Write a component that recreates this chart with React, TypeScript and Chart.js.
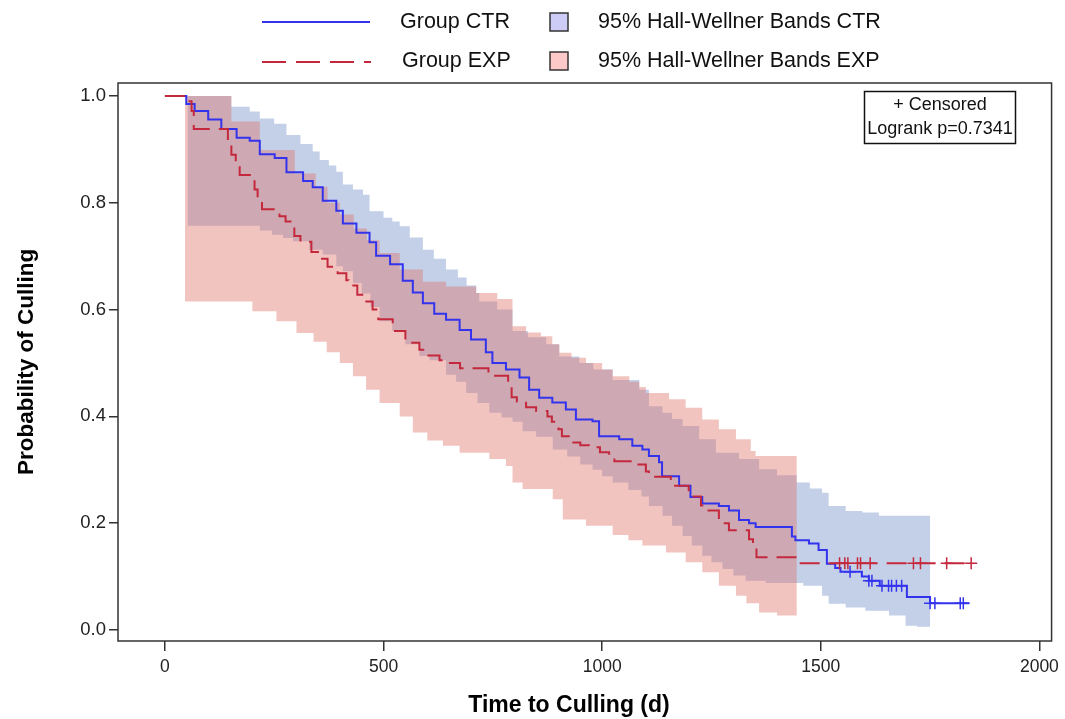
import { useEffect, useRef } from "react";
import { Chart, registerables } from "chart.js";

Chart.register(...registerables);

const FONT = '"Liberation Sans", Arial, Helvetica, sans-serif';

// Axis ticks
const xTicks = [0, 500, 1000, 1500, 2000];
const yTicks = [0, 0.2, 0.4, 0.6, 0.8, 1.0];

// Kaplan-Meier steps [time, survival after the event]
const ctrSteps: [number, number][] = [
  [0, 1], [49, 0.985], [68, 0.972], [99, 0.956], [129, 0.938], [164, 0.922], [194, 0.916],
  [217, 0.891], [251, 0.884], [278, 0.857], [316, 0.841], [338, 0.829], [361, 0.804],
  [392, 0.785], [407, 0.761], [438, 0.744], [468, 0.726], [483, 0.701], [515, 0.685],
  [544, 0.654], [567, 0.632], [590, 0.612], [616, 0.592], [643, 0.581], [674, 0.562],
  [700, 0.544], [734, 0.52], [749, 0.5], [780, 0.488], [811, 0.473], [833, 0.45],
  [856, 0.435], [886, 0.426], [917, 0.413], [940, 0.394], [978, 0.391], [993, 0.363],
  [1039, 0.357], [1069, 0.345], [1092, 0.338], [1107, 0.326], [1130, 0.314], [1137, 0.288],
  [1176, 0.27], [1202, 0.249], [1229, 0.237], [1267, 0.232], [1290, 0.224], [1313, 0.206],
  [1336, 0.2], [1351, 0.193], [1434, 0.175], [1442, 0.168], [1473, 0.162], [1495, 0.15],
  [1514, 0.124], [1533, 0.116], [1545, 0.109], [1594, 0.1], [1610, 0.092], [1635, 0.083],
  [1697, 0.062], [1750, 0.05],
];
const ctrEnd = 1840;

const expSteps: [number, number][] = [
  [0, 1], [46, 0.99], [61, 0.972], [66, 0.938], [144, 0.91], [152, 0.89], [162, 0.87],
  [171, 0.852], [205, 0.825], [212, 0.807], [222, 0.788], [262, 0.775], [276, 0.765],
  [292, 0.757], [296, 0.738], [310, 0.727], [335, 0.708], [350, 0.695], [372, 0.68],
  [395, 0.668], [415, 0.655], [420, 0.645], [440, 0.628], [455, 0.615], [475, 0.6],
  [488, 0.582], [521, 0.56], [550, 0.538], [582, 0.525], [597, 0.514], [628, 0.505],
  [643, 0.5], [675, 0.49], [740, 0.476], [785, 0.455], [793, 0.436], [805, 0.428],
  [826, 0.417], [849, 0.41], [875, 0.4], [885, 0.39], [900, 0.376], [908, 0.363],
  [929, 0.351], [950, 0.346], [970, 0.342], [995, 0.333], [1016, 0.325], [1028, 0.316],
  [1078, 0.31], [1100, 0.297], [1107, 0.287], [1157, 0.27], [1198, 0.25], [1226, 0.233],
  [1240, 0.224], [1267, 0.2], [1290, 0.187], [1336, 0.17], [1345, 0.163], [1353, 0.136],
  [1445, 0.125],
];
const expEnd = 1850;

// Censoring times
const ctrCensor = [1567, 1610, 1617, 1640, 1655, 1662, 1673, 1685, 1750, 1761, 1819, 1826];
const expCensor = [1543, 1555, 1562, 1584, 1591, 1613, 1712, 1728, 1788, 1844];

// 95% Hall-Wellner bands (step functions)
const ctrUpper: [number, number][] = [
  [52, 1.0], [152, 0.98], [194, 0.971], [217, 0.958], [250, 0.948], [278, 0.927], [310, 0.91],
  [338, 0.896], [354, 0.88], [375, 0.87], [392, 0.858], [407, 0.834], [430, 0.825],
  [453, 0.815], [468, 0.784], [500, 0.772], [520, 0.765], [537, 0.756], [560, 0.735],
  [590, 0.712], [615, 0.695], [643, 0.675], [670, 0.66], [690, 0.645], [712, 0.631],
  [719, 0.615], [760, 0.6], [795, 0.56], [830, 0.548], [872, 0.535], [902, 0.512],
  [948, 0.5], [980, 0.488], [1024, 0.468], [1085, 0.45], [1107, 0.419], [1138, 0.407],
  [1160, 0.395], [1184, 0.382], [1222, 0.357], [1260, 0.332], [1313, 0.32], [1359, 0.301],
  [1400, 0.29], [1445, 0.276], [1475, 0.265], [1503, 0.257], [1518, 0.232], [1557, 0.223],
  [1595, 0.22], [1633, 0.214],
];
const ctrLower: [number, number][] = [
  [52, 0.757], [217, 0.748], [245, 0.74], [270, 0.734], [293, 0.728], [330, 0.712],
  [361, 0.703], [392, 0.681], [407, 0.672], [430, 0.65], [450, 0.63], [470, 0.605],
  [491, 0.578], [520, 0.56], [550, 0.535], [582, 0.513], [605, 0.505], [643, 0.478],
  [666, 0.465], [689, 0.444], [715, 0.425], [742, 0.407], [770, 0.398], [795, 0.39],
  [818, 0.372], [849, 0.362], [887, 0.338], [920, 0.325], [950, 0.31], [978, 0.3],
  [1000, 0.288], [1024, 0.276], [1060, 0.262], [1090, 0.25], [1107, 0.232], [1138, 0.214],
  [1160, 0.195], [1184, 0.176], [1205, 0.158], [1229, 0.139], [1250, 0.127], [1275, 0.114],
  [1300, 0.102], [1328, 0.092], [1374, 0.088], [1460, 0.083], [1503, 0.064], [1518, 0.049],
  [1557, 0.042], [1602, 0.036], [1656, 0.027], [1694, 0.008], [1720, 0.006],
];
const ctrBandEnd = 1750;

const expUpper: [number, number][] = [
  [46, 1.0], [152, 0.952], [217, 0.899], [297, 0.855], [345, 0.83], [372, 0.8], [400, 0.778],
  [432, 0.752], [462, 0.73], [491, 0.706], [537, 0.675], [590, 0.652], [643, 0.643],
  [712, 0.631], [760, 0.62], [795, 0.569], [826, 0.557], [860, 0.55], [886, 0.535],
  [902, 0.519], [930, 0.51], [963, 0.5], [1000, 0.488], [1024, 0.475], [1062, 0.465],
  [1085, 0.455], [1100, 0.444], [1153, 0.432], [1191, 0.416], [1229, 0.394], [1267, 0.376],
  [1306, 0.357], [1340, 0.335], [1351, 0.326],
];
const expLower: [number, number][] = [
  [46, 0.615], [200, 0.597], [255, 0.578], [301, 0.556], [340, 0.54], [370, 0.52], [400, 0.5],
  [430, 0.475], [460, 0.45], [491, 0.425], [537, 0.4], [567, 0.37], [600, 0.355],
  [636, 0.345], [674, 0.332], [742, 0.32], [780, 0.307], [795, 0.276], [818, 0.264],
  [887, 0.245], [910, 0.207], [963, 0.195], [1024, 0.178], [1060, 0.168], [1092, 0.158],
  [1146, 0.145], [1191, 0.127], [1229, 0.108], [1267, 0.083], [1306, 0.064], [1330, 0.05],
  [1359, 0.033], [1400, 0.027],
];
const expBandEnd = 1445;

const BLUE = "#3333ee";
const RED = "#c4283c";

type Pt = { x: number; y: number };

function stepPoints(steps: [number, number][], end: number): Pt[] {
  const pts: Pt[] = [];
  steps.forEach(([t, v], i) => {
    if (i > 0) pts.push({ x: t, y: steps[i - 1][1] });
    pts.push({ x: t, y: v });
  });
  pts.push({ x: end, y: steps[steps.length - 1][1] });
  return pts;
}

function bandPolygon(upper: [number, number][], lower: [number, number][], end: number): Pt[] {
  const u = stepPoints(upper, end);
  const l = stepPoints(lower, end).reverse();
  return u.concat(l);
}

function survAt(steps: [number, number][], t: number): number {
  let v = steps[0][1];
  for (const [st, sv] of steps) if (st <= t) v = sv;
  return v;
}

const decorPlugin = {
  id: "decor",
  afterDraw(chart: any) {
    const ctx: CanvasRenderingContext2D = chart.ctx;
    const a = chart.chartArea;
    ctx.save();
    // frame
    ctx.strokeStyle = "#333";
    ctx.lineWidth = 1.5;
    ctx.strokeRect(a.left, a.top, a.right - a.left, a.bottom - a.top);

    // x-axis title
    ctx.font = `bold 23px ${FONT}`;
    ctx.textAlign = "center";
    ctx.textBaseline = "middle";
    ctx.fillStyle = "#000";
    ctx.fillText("Time to Culling (d)", 569, 706);

    // legend
    ctx.font = `21.5px ${FONT}`;
    ctx.textBaseline = "middle";
    ctx.textAlign = "left";
    ctx.fillStyle = "#111";
    ctx.lineWidth = 2;
    ctx.strokeStyle = BLUE;
    ctx.beginPath();
    ctx.moveTo(262, 22);
    ctx.lineTo(370, 22);
    ctx.stroke();
    ctx.fillText("Group CTR", 400, 22);
    ctx.strokeStyle = RED;
    ctx.setLineDash([24, 10]);
    ctx.beginPath();
    ctx.moveTo(262, 62);
    ctx.lineTo(371, 62);
    ctx.stroke();
    ctx.setLineDash([]);
    ctx.fillText("Group EXP", 402, 61);

    ctx.lineWidth = 1.5;
    ctx.strokeStyle = "#333";
    ctx.fillStyle = "#ccccf6";
    ctx.fillRect(550, 13, 18, 18);
    ctx.strokeRect(550, 13, 18, 18);
    ctx.fillStyle = "#fcc8c8";
    ctx.fillRect(550, 52, 18, 18);
    ctx.strokeRect(550, 52, 18, 18);
    ctx.fillStyle = "#111";
    ctx.fillText("95% Hall-Wellner Bands CTR", 598, 22);
    ctx.fillText("95% Hall-Wellner Bands EXP", 598, 61);

    // inset box
    ctx.strokeStyle = "#111";
    ctx.lineWidth = 1.5;
    ctx.strokeRect(864.5, 91.5, 151, 52);
    ctx.font = `18px ${FONT}`;
    ctx.textAlign = "center";
    ctx.fillText("+ Censored", 940, 105);
    ctx.fillText("Logrank p=0.7341", 940, 129);
    ctx.restore();
  },
};

export default function App() {
  const ref = useRef<HTMLCanvasElement | null>(null);

  useEffect(() => {
    document.body.style.margin = "0";
    const canvas = ref.current;
    if (!canvas) return;

    const chart = new Chart(canvas, {
      type: "line",
      data: {
        datasets: [
          {
            label: "CTR censored",
            data: ctrCensor.map((t) => ({ x: t, y: survAt(ctrSteps, t) })),
            showLine: false,
            pointStyle: "cross",
            pointRadius: 6,
            pointBorderWidth: 1.5,
            borderColor: BLUE,
            backgroundColor: BLUE,
          },
          {
            label: "EXP censored",
            data: expCensor.map((t) => ({ x: t, y: survAt(expSteps, t) })),
            showLine: false,
            pointStyle: "cross",
            pointRadius: 6,
            pointBorderWidth: 1.5,
            borderColor: RED,
            backgroundColor: RED,
          },
          {
            label: "Group EXP",
            data: stepPoints(expSteps, expEnd),
            borderColor: RED,
            borderWidth: 2,
            borderDash: [20, 9],
            pointRadius: 0,
            fill: false,
          },
          {
            label: "Group CTR",
            data: stepPoints(ctrSteps, ctrEnd),
            borderColor: BLUE,
            borderWidth: 2,
            pointRadius: 0,
            fill: false,
          },
          {
            label: "95% Hall-Wellner Bands EXP",
            data: bandPolygon(expUpper, expLower, expBandEnd),
            borderColor: "rgba(0,0,0,0)",
            borderWidth: 0,
            pointRadius: 0,
            backgroundColor: "rgba(222,107,97,0.4)",
            fill: "shape",
          },
          {
            label: "95% Hall-Wellner Bands CTR",
            data: bandPolygon(ctrUpper, ctrLower, ctrBandEnd),
            borderColor: "rgba(0,0,0,0)",
            borderWidth: 0,
            pointRadius: 0,
            backgroundColor: "rgb(196,208,232)",
            fill: "shape",
          },
        ],
      },
      options: {
        animation: false,
        responsive: false,
        devicePixelRatio: 1,
        layout: { padding: { top: 83, right: 12, left: 0, bottom: 0 } },
        font: { family: FONT },
        plugins: {
          legend: { display: false },
          tooltip: { enabled: false },
        },
        elements: { line: { tension: 0 } },
        scales: {
          x: {
            type: "linear",
            min: -107.3,
            max: 2027.9,
            afterBuildTicks: (s: any) => {
              s.ticks = xTicks.map((v) => ({ value: v }));
            },
            afterFit: (s: any) => {
              s.height = 78;
            },
            ticks: {
              autoSkip: false,
              maxRotation: 0,
              padding: 6,
              color: "#222",
              font: { family: FONT, size: 17.5 },
              callback: (v: any) => String(v),
            },
            grid: {
              display: true,
              drawOnChartArea: false,
              drawTicks: true,
              tickLength: 10,
              color: "#333",
              lineWidth: 1.5,
            },
            border: { display: false },
            title: { display: false },
          },
          y: {
            type: "linear",
            min: -0.0206,
            max: 1.0243,
            afterBuildTicks: (s: any) => {
              s.ticks = yTicks.map((v) => ({ value: v }));
            },
            afterFit: (s: any) => {
              s.width = 118;
            },
            ticks: {
              autoSkip: false,
              padding: 3,
              color: "#222",
              font: { family: FONT, size: 18.5 },
              callback: (v: any) => Number(v).toFixed(1),
            },
            grid: {
              display: true,
              drawOnChartArea: false,
              drawTicks: true,
              tickLength: 9,
              color: "#333",
              lineWidth: 1.5,
            },
            border: { display: false },
            title: {
              display: true,
              text: "Probability of Culling",
              color: "#000",
              font: { family: FONT, size: 22.5, weight: "bold" },
              padding: { top: 13, bottom: 0 },
            },
          },
        },
      } as any,
      plugins: [decorPlugin],
    });

    return () => chart.destroy();
  }, []);

  return (
    <div style={{ width: 1065, height: 719, background: "#fff" }}>
      <canvas ref={ref} width={1065} height={719} style={{ display: "block" }} />
    </div>
  );
}
